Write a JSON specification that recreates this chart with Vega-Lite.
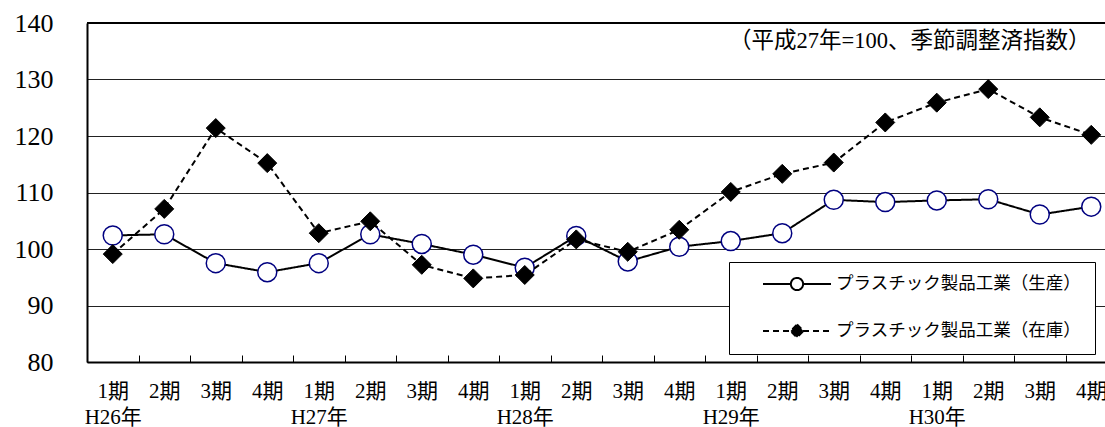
{
  "$schema": "https://vega.github.io/schema/vega-lite/v6.json",
  "width": 1018,
  "height": 339,
  "autosize": {"type": "none"},
  "padding": {"left": 87, "top": 23, "right": 0, "bottom": 65},
  "background": "white",
  "config": {"view": {"stroke": null}},
  "datasets": {
    "d": [
      {"q": "H26年-1", "s": "プラスチック製品工業（生産）", "v": 102.4},
      {"q": "H26年-2", "s": "プラスチック製品工業（生産）", "v": 102.6},
      {"q": "H26年-3", "s": "プラスチック製品工業（生産）", "v": 97.5},
      {"q": "H26年-4", "s": "プラスチック製品工業（生産）", "v": 95.9},
      {"q": "H27年-1", "s": "プラスチック製品工業（生産）", "v": 97.5},
      {"q": "H27年-2", "s": "プラスチック製品工業（生産）", "v": 102.6},
      {"q": "H27年-3", "s": "プラスチック製品工業（生産）", "v": 100.9},
      {"q": "H27年-4", "s": "プラスチック製品工業（生産）", "v": 99.0},
      {"q": "H28年-1", "s": "プラスチック製品工業（生産）", "v": 96.7},
      {"q": "H28年-2", "s": "プラスチック製品工業（生産）", "v": 102.3},
      {"q": "H28年-3", "s": "プラスチック製品工業（生産）", "v": 97.8},
      {"q": "H28年-4", "s": "プラスチック製品工業（生産）", "v": 100.4},
      {"q": "H29年-1", "s": "プラスチック製品工業（生産）", "v": 101.4},
      {"q": "H29年-2", "s": "プラスチック製品工業（生産）", "v": 102.8},
      {"q": "H29年-3", "s": "プラスチック製品工業（生産）", "v": 108.7},
      {"q": "H29年-4", "s": "プラスチック製品工業（生産）", "v": 108.3},
      {"q": "H30年-1", "s": "プラスチック製品工業（生産）", "v": 108.6},
      {"q": "H30年-2", "s": "プラスチック製品工業（生産）", "v": 108.8},
      {"q": "H30年-3", "s": "プラスチック製品工業（生産）", "v": 106.1},
      {"q": "H30年-4", "s": "プラスチック製品工業（生産）", "v": 107.5},
      {"q": "H26年-1", "s": "プラスチック製品工業（在庫）", "v": 99.1},
      {"q": "H26年-2", "s": "プラスチック製品工業（在庫）", "v": 107.1},
      {"q": "H26年-3", "s": "プラスチック製品工業（在庫）", "v": 121.4},
      {"q": "H26年-4", "s": "プラスチック製品工業（在庫）", "v": 115.2},
      {"q": "H27年-1", "s": "プラスチック製品工業（在庫）", "v": 102.8},
      {"q": "H27年-2", "s": "プラスチック製品工業（在庫）", "v": 104.9},
      {"q": "H27年-3", "s": "プラスチック製品工業（在庫）", "v": 97.2},
      {"q": "H27年-4", "s": "プラスチック製品工業（在庫）", "v": 94.8},
      {"q": "H28年-1", "s": "プラスチック製品工業（在庫）", "v": 95.4},
      {"q": "H28年-2", "s": "プラスチック製品工業（在庫）", "v": 101.7},
      {"q": "H28年-3", "s": "プラスチック製品工業（在庫）", "v": 99.5},
      {"q": "H28年-4", "s": "プラスチック製品工業（在庫）", "v": 103.4},
      {"q": "H29年-1", "s": "プラスチック製品工業（在庫）", "v": 110.1},
      {"q": "H29年-2", "s": "プラスチック製品工業（在庫）", "v": 113.3},
      {"q": "H29年-3", "s": "プラスチック製品工業（在庫）", "v": 115.3},
      {"q": "H29年-4", "s": "プラスチック製品工業（在庫）", "v": 122.4},
      {"q": "H30年-1", "s": "プラスチック製品工業（在庫）", "v": 125.9},
      {"q": "H30年-2", "s": "プラスチック製品工業（在庫）", "v": 128.3},
      {"q": "H30年-3", "s": "プラスチック製品工業（在庫）", "v": 123.3},
      {"q": "H30年-4", "s": "プラスチック製品工業（在庫）", "v": 120.2}
    ]
  },
  "data": {"name": "d"},
  "layer": [
    {
      "transform": [{"filter": "datum.s == 'プラスチック製品工業（生産）'"}],
      "mark": {"type": "line", "color": "black", "strokeWidth": 2},
      "encoding": {
        "x": {
          "field": "q", "type": "ordinal",
          "scale": {
            "type": "band", "paddingInner": 0, "paddingOuter": 0, "range": [0, 1030],
            "domain": ["H26年-1","H26年-2","H26年-3","H26年-4","H27年-1","H27年-2","H27年-3","H27年-4","H28年-1","H28年-2","H28年-3","H28年-4","H29年-1","H29年-2","H29年-3","H29年-4","H30年-1","H30年-2","H30年-3","H30年-4"]
          },
          "axis": {
            "title": null,
            "labelExpr": "datum.value ? (substring(datum.value,5)=='1' ? ['1期', substring(datum.value,0,4)] : substring(datum.value,5) + '期') : ''",
            "labelAngle": 0,
            "labelFont": "Liberation Serif, Noto Sans CJK JP",
            "labelFontSize": 21,
            "labelColor": "black",
            "labelBaseline": "top",
            "labelPadding": 25,
            "labelLineHeight": 26,
            "labelOverlap": false,
            "domain": true, "domainColor": "black", "domainWidth": 2,
            "ticks": true, "tickBand": "extent", "tickSize": -7, "tickColor": "black", "tickWidth": 1,
            "grid": false
          }
        },
        "y": {
          "field": "v", "type": "quantitative",
          "scale": {"domain": [80, 140], "nice": false, "zero": false},
          "axis": {
            "title": null,
            "values": [80, 90, 100, 110, 120, 130, 140],
            "labelFont": "Liberation Serif",
            "labelFontSize": 26,
            "labelColor": "black",
            "labelPadding": 34,
            "ticks": false,
            "domain": true, "domainColor": "black", "domainWidth": 2,
            "grid": true, "gridColor": "#222", "gridWidth": 1
          }
        },
        "strokeDash": {
          "field": "s", "type": "nominal",
          "scale": {"domain": ["プラスチック製品工業（生産）", "プラスチック製品工業（在庫）"], "range": [[1, 0], [6, 4]]},
          "legend": {
            "title": null,
            "orient": "none",
            "legendX": 642,
            "legendY": 239,
            "direction": "vertical",
            "fillColor": "white",
            "strokeColor": "black",
            "padding": 14,
            "symbolSize": 4624,
            "symbolStrokeWidth": 2,
            "symbolStrokeColor": "black",
            "clipHeight": 16,
            "rowPadding": 29,
            "symbolOffset": 19,
            "labelOffset": 4,
            "labelFont": "Noto Sans CJK JP",
            "labelFontSize": 17.5,
            "labelColor": "black",
            "labelLimit": 0,
            "encode": {
              "symbols": {
                "update": {
                  "shape": {"signal": "datum.index == 0 ? 'M-1,0L-0.18,0M0.18,0L1,0M0.18,0A0.18,0.18 0 1,1 -0.18,0A0.18,0.18 0 1,1 0.18,0Z' : 'M-1,0L1,0M0,-0.19L0.19,0L0,0.19L-0.19,0Z'"},
                  "fill": {"signal": "datum.index == 0 ? 'white' : 'black'"},
                  "stroke": {"value": "black"},
                  "strokeWidth": {"value": 2},
                  "opacity": {"value": 1}
                }
              }
            }
          }
        }
      }
    },
    {
      "transform": [{"filter": "datum.s == 'プラスチック製品工業（生産）'"}],
      "mark": {"type": "point", "shape": "circle", "size": 361, "filled": true, "fill": "white", "stroke": "#000080", "strokeWidth": 1.5, "opacity": 1},
      "encoding": {
        "x": {"field": "q", "type": "ordinal"},
        "y": {"field": "v", "type": "quantitative"}
      }
    },
    {
      "transform": [{"filter": "datum.s == 'プラスチック製品工業（在庫）'"}],
      "mark": {"type": "line", "color": "black", "strokeWidth": 2},
      "encoding": {
        "x": {"field": "q", "type": "ordinal"},
        "y": {"field": "v", "type": "quantitative"},
        "strokeDash": {"field": "s", "type": "nominal"}
      }
    },
    {
      "transform": [{"filter": "datum.s == 'プラスチック製品工業（在庫）'"}],
      "mark": {"type": "point", "shape": "diamond", "size": 361, "filled": true, "fill": "black", "stroke": "black", "strokeWidth": 1, "opacity": 1},
      "encoding": {
        "x": {"field": "q", "type": "ordinal"},
        "y": {"field": "v", "type": "quantitative"}
      }
    },
    {
      "data": {"values": [{}]},
      "mark": {"type": "rule", "color": "black", "strokeWidth": 2},
      "encoding": {"y": {"datum": 140}}
    },
    {
      "data": {"values": [{}]},
      "mark": {"type": "text", "font": "Liberation Serif, Noto Sans CJK JP", "fontSize": 22.5, "color": "black", "dx": -27, "align": "center", "baseline": "middle"},
      "encoding": {
        "x": {"datum": "H30年-1"},
        "y": {"datum": 136.8},
        "text": {"value": "（平成27年=100、季節調整済指数）"}
      }
    }
  ]
}
